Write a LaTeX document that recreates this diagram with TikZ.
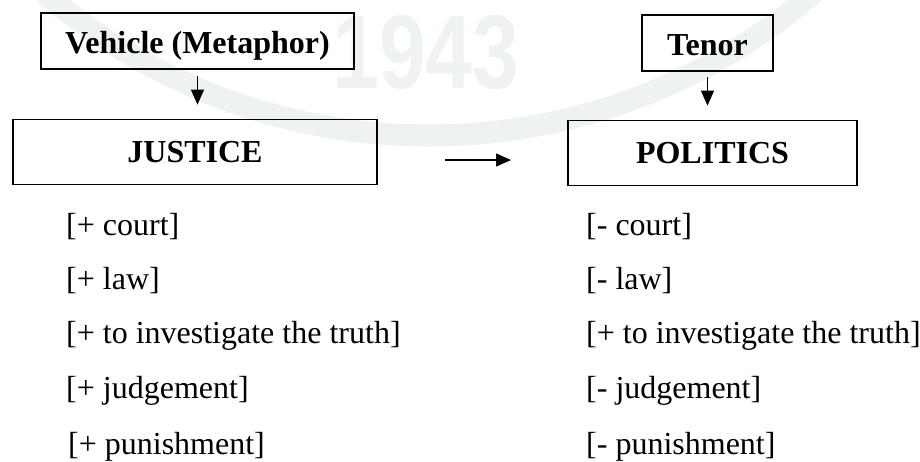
\documentclass[tikz,border=0pt]{standalone}
\usepackage{fontspec}
\setmainfont{Liberation Serif}
\newfontfamily\stampfont{Liberation Sans}
\usetikzlibrary{arrows.meta}
\definecolor{stampgreen}{RGB}{238,243,239}
\begin{document}
\begin{tikzpicture}[x=1pt,y=-1pt,
  frame/.style={draw, line width=1.8pt, inner sep=0pt,
    font=\fontsize{32}{38}\selectfont\bfseries},
  upper/.style={frame, minimum height=56pt, text height=24pt, text depth=0pt},
  lower/.style={frame, minimum height=65pt, text height=24pt, text depth=3pt},
  feature/.style={anchor=base west, inner sep=0pt,
    font=\fontsize{32}{38}\selectfont},
  link/.style={line width=1.4pt, -{Triangle[length=15pt,width=13pt]}}]
\fill[white] (0,0) rectangle (920,461);
\useasboundingbox (0,0) rectangle (920,461);

% pale seal printed behind the diagram
\begin{scope}
  \clip (0,0) rectangle (920,461);
  \draw[stampgreen, line width=22pt] (429,-454.5) circle[radius=590pt];
  \node[text=stampgreen, inner sep=0pt, xscale=0.8,
    font=\stampfont\bfseries\fontsize{105}{105}\selectfont] (stamp) at (426,52) {1943};
\end{scope}

% boxes
\node[upper, minimum width=313pt] (veh) at (197.5,41) {Vehicle (Metaphor)};
\node[upper, minimum width=131pt] (ten) at (707.5,43) {Tenor};
\node[lower, minimum width=364pt] (jus) at (195,152) {JUSTICE};
\node[lower, minimum width=289pt] (pol) at (712.5,153) {POLITICS};

% arrows
\draw[link, shorten <=6pt, shorten >=14pt] (veh.south) -- (veh.south |- jus.north);
\draw[link, shorten <=5pt, shorten >=14pt] (ten.south) -- (ten.south |- pol.north);
\coordinate (mapfrom) at (445,160);
\coordinate (mapto) at (511,160);
\draw[link] (mapfrom) -- (mapto);

% semantic features of the vehicle
\node[feature] (v1) at (66,235) {[+ court]};
\node[feature] (v2) at (66,289) {[+ law]};
\node[feature] (v3) at (66,343) {[+ to investigate the truth]};
\node[feature] (v4) at (66,398) {[+ judgement]};
\node[feature] (v5) at (68,454) {[+ punishment]};

% semantic features of the tenor
\node[feature] (t1) at (586,235) {[- court]};
\node[feature] (t2) at (586,289) {[- law]};
\node[feature] (t3) at (586,343) {[+ to investigate the truth]};
\node[feature] (t4) at (586,398) {[- judgement]};
\node[feature] (t5) at (586,454) {[- punishment]};
\end{tikzpicture}
\end{document}
